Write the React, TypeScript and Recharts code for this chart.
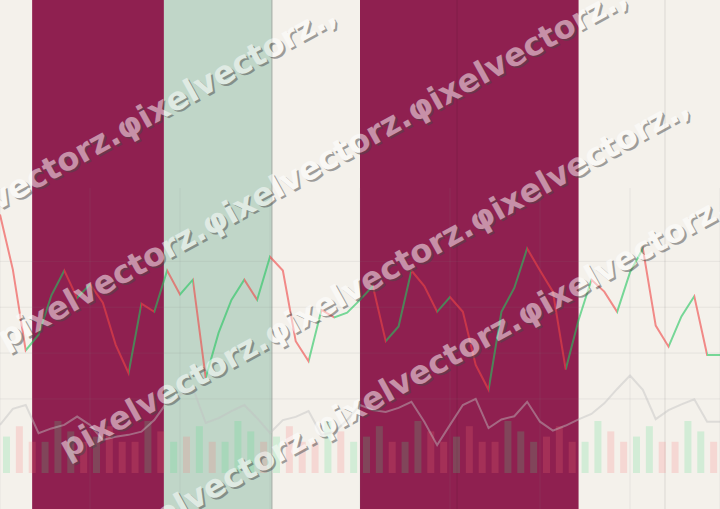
import {
  ComposedChart,
  BarChart,
  Bar,
  Line,
  XAxis,
  YAxis,
  CartesianGrid,
  ReferenceArea,
  ReferenceLine,
  Cell,
} from "recharts";

const WIDTH = 720;
const HEIGHT = 509;

// closing price, one value per session edge (57 points)
const closes = [
  115.1, 109.1, 100.3, 102.0, 106.3, 109.0, 106.0, 107.5, 105.5, 100.9,
  97.8, 105.4, 104.5, 109.0, 106.4, 108.0, 97.3, 102.2, 105.8, 108.0,
  105.8, 110.5, 109.0, 101.3, 99.1, 104.7, 103.9, 104.4, 105.8, 107.3,
  101.3, 102.9, 109.0, 107.3, 104.5, 106.1, 104.5, 98.7, 96.0, 104.5,
  107.1, 111.4, 109.0, 106.7, 98.2, 103.6, 108.0, 106.7, 104.5, 108.8,
  111.4, 103.0, 100.7, 104.0, 106.2, 99.8, 99.8,
];

// slow oscillator drawn in the lower pane
const oscillator = [
  26.2, 31.2, 32.4, 23.6, 25.1, 26.2, 28.8, 26.2, 21.5, 22.5,
  23.1, 24.1, 27.7, 33.3, 35.5, 37.7, 26.8, 28.3, 30.5, 32.4,
  28.3, 23.7, 27.7, 28.7, 30.5, 23.1, 24.0, 27.7, 32.4, 30.8,
  30.2, 31.5, 33.4, 27.2, 19.9, 26.2, 32.4, 34.3, 25.2, 27.9,
  28.9, 33.4, 27.2, 24.4, 26.0, 27.9, 29.6, 32.9, 37.4, 41.6,
  37.1, 28.0, 30.8, 32.6, 34.2, 27.2, 27.2,
];

// volume per session (56 bars)
const volumes = [
  1400, 1800, 1200, 1200, 2000, 1600, 1200,
  1400, 1800, 1200, 1200, 2000, 1600, 1200,
  1400, 1800, 1200, 1200, 2000, 1600, 1200,
  1400, 1800, 1200, 1200, 2000, 1600, 1200,
  1400, 1800, 1200, 1200, 2000, 1600, 1200,
  1400, 1800, 1200, 1200, 2000, 1600, 1200,
  1400, 1800, 1200, 1200, 2000, 1600, 1200,
  1400, 1800, 1200, 1200, 2000, 1600, 1200,
];
// 1 = up session, 0 = down session
const volumeUp = [
  1, 0, 0, 1, 1, 1, 0, 1, 0, 0, 0, 1, 0, 1,
  0, 1, 0, 1, 1, 1, 0, 1, 0, 0, 0, 1, 0, 1,
  1, 1, 0, 1, 1, 0, 0, 1, 0, 0, 0, 1, 1, 1,
  0, 0, 0, 1, 1, 0, 0, 1, 1, 0, 0, 1, 1, 0,
];

// market regimes, in session units
const regimes = [
  { from: 2.5, to: 12.75, tone: "bear" },
  { from: 12.75, to: 21.15, tone: "bull" },
  { from: 28, to: 45, tone: "bear" },
];
const eventDays = [35.55, 51.72];
const gridDays = [7, 14, 21, 28, 35, 42, 49];
const priceTicks = [95, 100, 105, 110];

const WATERMARK = "pixelvectorz.φixelvectorz.φixelvectorz.,";
const watermarkRows = [
  [-291, 358],
  [0, 340],
  [62, 450],
  [110, 544],
];

const COLORS = {
  paper: "#f4f1eb",
  bear: "#8f2050",
  bull: "#c0d6c8",
  bullEdge: "#a2aba4",
  up: "#22c55e",
  down: "#ef4444",
  volUp: "#4ade80",
  volDown: "#f87171",
  osc: "#c0c0c0",
  grid: "#808080",
};

const lineRows = closes.map((close, day) => ({ day, close, osc: oscillator[day] }));
const volumeRows = volumes.map((volume, day) => ({ day, volume, up: volumeUp[day] }));

const lastIdx = closes.length - 1;
const priceStops = closes.slice(1).flatMap((c, i) => {
  const color = c >= closes[i] ? COLORS.up : COLORS.down;
  return [
    <stop key={`a${i}`} offset={i / lastIdx} stopColor={color} />,
    <stop key={`b${i}`} offset={(i + 1) / lastIdx} stopColor={color} />,
  ];
});

const layer: React.CSSProperties = { position: "absolute", left: 0, top: 0 };

function Watermark() {
  return (
    <svg width={WIDTH} height={HEIGHT} style={{ ...layer, pointerEvents: "none" }}>
      {watermarkRows.map(([x, y], i) => (
        <g
          key={i}
          opacity={0.5}
          fontFamily="DejaVu Sans"
          fontWeight="bold"
          fontSize={32}
          transform={`rotate(-29 ${x} ${y})`}
        >
          <text x={x + 1} y={y + 2.5} fill="#4a4a4a" dominantBaseline="central">
            {WATERMARK}
          </text>
          <text x={x} y={y} fill="#fff" dominantBaseline="central">
            {WATERMARK}
          </text>
        </g>
      ))}
    </svg>
  );
}

export default function App() {
  return (
    <div
      style={{
        position: "fixed",
        left: 0,
        top: 0,
        width: WIDTH,
        height: HEIGHT,
        background: COLORS.paper,
        overflow: "hidden",
      }}
    >
      {/* regime bands + event markers */}
      <div style={layer}>
        <ComposedChart width={WIDTH} height={HEIGHT} data={lineRows} margin={{ top: 0, right: 0, bottom: 0, left: 0 }}>
          <XAxis type="number" dataKey="day" domain={[0, lastIdx]} hide />
          <YAxis domain={[0, 100]} hide />
          {/* invisible carrier series so the axes get a scale */}
          <Line dataKey="osc" stroke="none" dot={false} isAnimationActive={false} />
          {regimes.map((r) => (
            <ReferenceArea
              key={r.from}
              x1={r.from}
              x2={r.to}
              y1={0}
              y2={100}
              fill={r.tone === "bear" ? COLORS.bear : COLORS.bull}
              fillOpacity={1}
              stroke="none"
            />
          ))}
          <ReferenceLine x={21.15} stroke={COLORS.bullEdge} strokeWidth={1} />
          {eventDays.map((d) => (
            <ReferenceLine key={d} x={d} stroke="#000" strokeOpacity={0.1} strokeWidth={1} />
          ))}
        </ComposedChart>
      </div>

      {/* volume */}
      <div style={layer}>
        <BarChart width={WIDTH} height={HEIGHT} data={volumeRows} margin={{ top: 395, right: 0, bottom: 36, left: 0 }}>
          <XAxis dataKey="day" hide />
          <YAxis domain={[0, 3000]} hide />
          <Bar dataKey="volume" barSize={7} isAnimationActive={false}>
            {volumeRows.map((r) => (
              <Cell key={r.day} fill={r.up ? COLORS.volUp : COLORS.volDown} fillOpacity={0.2} />
            ))}
          </Bar>
        </BarChart>
      </div>

      {/* grid, price and oscillator */}
      <div style={layer}>
        <ComposedChart width={WIDTH} height={HEIGHT} data={lineRows} margin={{ top: 188, right: 0, bottom: 0, left: 0 }}>
          <defs>
            <linearGradient id="priceStroke" x1="0" y1="0" x2="1" y2="0">
              {priceStops}
            </linearGradient>
          </defs>
          <CartesianGrid horizontal={false} stroke={COLORS.grid} strokeOpacity={0.12} />
          <XAxis type="number" dataKey="day" domain={[0, lastIdx]} ticks={gridDays} hide />
          <YAxis domain={[83, 118]} ticks={priceTicks} hide />
          <YAxis yAxisId="osc" domain={[0, 100]} hide />
          {priceTicks.map((t) => (
            <ReferenceLine key={t} y={t} stroke={COLORS.grid} strokeOpacity={0.12} />
          ))}
          <Line
            yAxisId="osc"
            type="linear"
            dataKey="osc"
            stroke={COLORS.osc}
            strokeOpacity={0.45}
            strokeWidth={2}
            dot={false}
            isAnimationActive={false}
          />
          <Line
            type="linear"
            dataKey="close"
            stroke="url(#priceStroke)"
            strokeOpacity={0.6}
            strokeWidth={2}
            dot={false}
            isAnimationActive={false}
          />
        </ComposedChart>
      </div>

      <Watermark />
    </div>
  );
}
